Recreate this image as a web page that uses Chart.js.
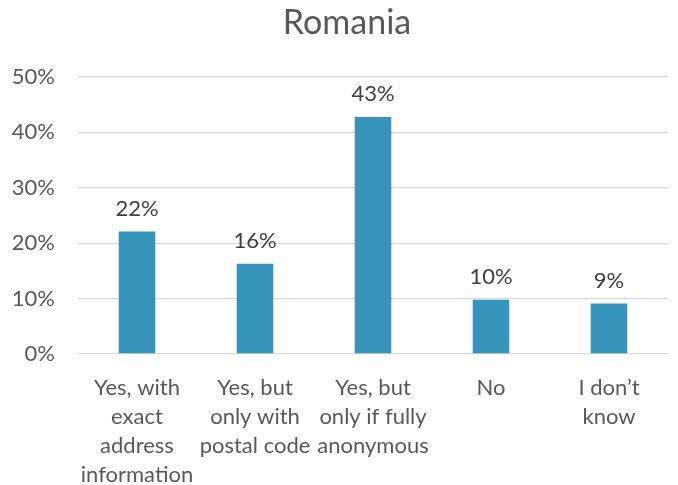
<!DOCTYPE html>
<html>
<head>
<meta charset="utf-8">
<script src="https://cdn.jsdelivr.net/npm/chart.js@4"></script>
<style>
  html, body { margin: 0; padding: 0; background: #fff; }
  #wrap { width: 678px; height: 485px; }
</style>
</head>
<body>
<div id="wrap"><canvas id="romaniaChart" width="678" height="485"></canvas></div>
<script>
const chartTitle = "Romania";
const categories = [
  ["Yes, with", "exact", "address", "information"],
  ["Yes, but", "only with", "postal code"],
  ["Yes, but", "only if fully", "anonymous"],
  "No",
  ["I don\u2019t", "know"]
];
const shares = [22.1, 16.3, 42.8, 9.8, 9.1];
const shareLabels = ["22%", "16%", "43%", "10%", "9%"];
const yTicks = [0, 10, 20, 30, 40, 50];

const fontFamily = "Lato, 'Noto Sans', sans-serif";
const textColor = "#595959";

// percentage above each bar, plus the title centred on the whole picture
const barLabels = {
  id: "barLabels",
  afterDatasetsDraw(chart) {
    const c = chart.ctx;
    const meta = chart.getDatasetMeta(0);
    c.save();
    c.font = "22px " + fontFamily;
    c.fillStyle = "#404040";
    c.textAlign = "center";
    c.textBaseline = "bottom";
    meta.data.forEach((bar, i) => {
      c.fillText(shareLabels[i], bar.x, bar.y - 12);
    });
    c.font = "34px " + fontFamily;
    c.fillStyle = textColor;
    c.textBaseline = "middle";
    c.fillText(chartTitle, (chart.chartArea.left + chart.chartArea.right) / 2 - 26, 23);
    c.restore();
  }
};

new Chart(document.getElementById("romaniaChart").getContext("2d"), {
  type: "bar",
  data: {
    labels: categories,
    datasets: [{
      data: shares,
      backgroundColor: "#3694bb",
      barPercentage: 0.31,
      categoryPercentage: 1
    }]
  },
  options: {
    responsive: false,
    animation: false,
    layout: { padding: { left: 0, right: 10, top: 77, bottom: 0 } },
    plugins: {
      legend: { display: false },
      tooltip: { enabled: false },
      title: { display: false }
    },
    scales: {
      x: {
        grid: { display: false },
        border: { display: false },
        ticks: {
          color: textColor,
          font: { family: fontFamily, size: 22, lineHeight: 1.32 },
          padding: 11,
          maxRotation: 0,
          autoSkip: false
        },
        afterFit(scale) { scale.height = 131; }
      },
      y: {
        min: 0,
        max: 50,
        afterBuildTicks(scale) { scale.ticks = yTicks.map(v => ({ value: v })); },
        grid: { color: "#d9d9d9", lineWidth: 1.3, drawTicks: false },
        border: { display: false },
        ticks: {
          color: textColor,
          font: { family: fontFamily, size: 22 },
          padding: 23,
          callback: v => v + "%"
        },
        afterFit(scale) { scale.width = 78; }
      }
    }
  },
  plugins: [barLabels]
});
</script>
</body>
</html>
